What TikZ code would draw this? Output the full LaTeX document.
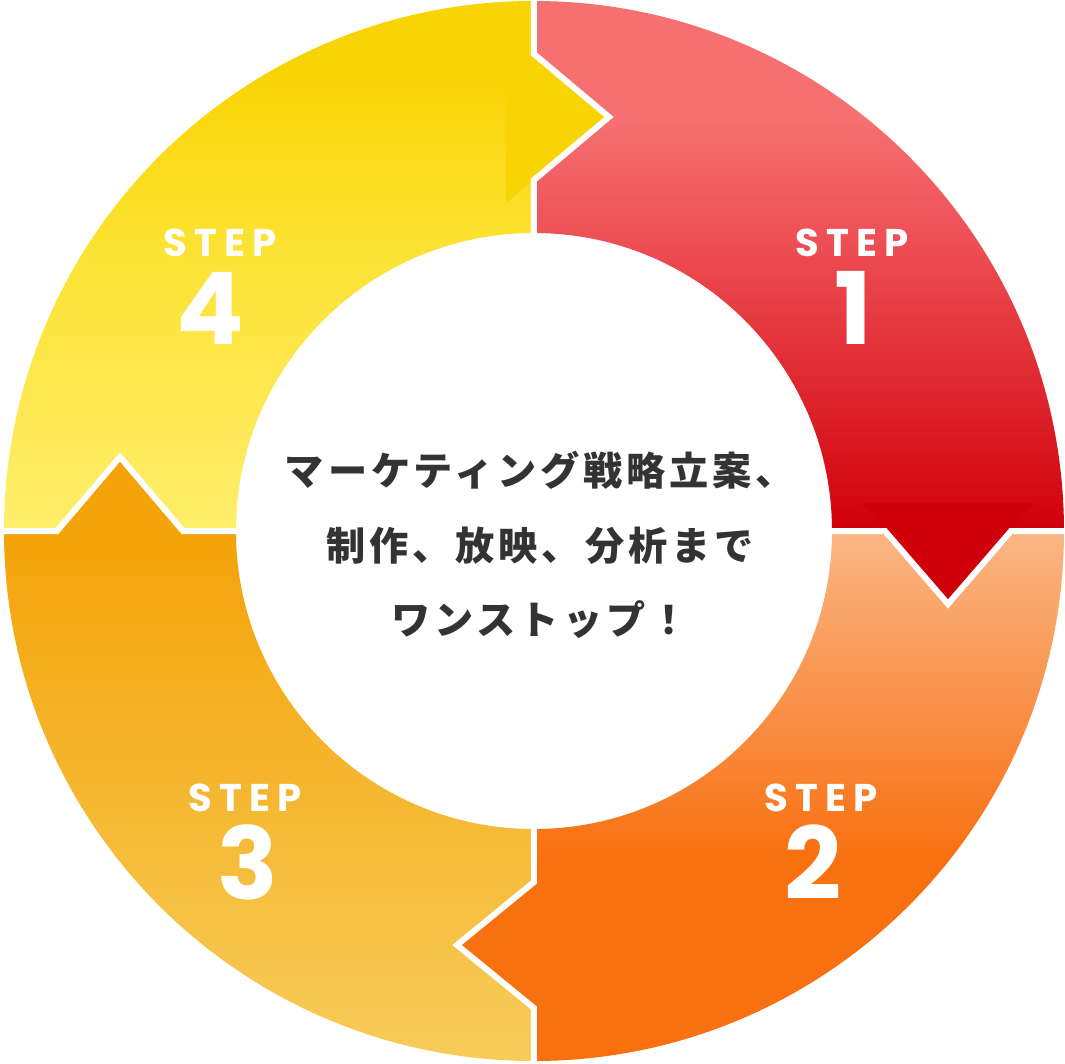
\documentclass[tikz,border=0pt]{standalone}
\usepackage{fontspec}
\usepackage{tikz}
\usetikzlibrary{positioning}
\newfontfamily\jpfont{Noto Sans CJK JP}[LetterSpace=10]
\newfontfamily\stepfont{Poppins}[LetterSpace=18]
\newfontfamily\numfont{Poppins}
\definecolor{stepOneTop}{RGB}{246,112,114}
\definecolor{stepOneMid}{RGB}{235,72,78}
\definecolor{stepOneBot}{RGB}{208,0,10}
\definecolor{stepTwoTop}{RGB}{250,182,132}
\definecolor{stepTwoMid}{RGB}{249,148,78}
\definecolor{stepTwoBot}{RGB}{248,112,15}
\definecolor{stepThreeTop}{RGB}{244,163,8}
\definecolor{stepThreeMid}{RGB}{245,187,52}
\definecolor{stepThreeBot}{RGB}{247,204,90}
\definecolor{stepFourTop}{RGB}{249,212,5}
\definecolor{stepFourMid}{RGB}{252,226,50}
\definecolor{stepFourBot}{RGB}{255,238,108}
\definecolor{centerGray}{RGB}{51,51,51}
% 25bp = bottom of the path, 75bp = top of the path
\pgfdeclareverticalshading{stepOneShade}{100bp}{color(0bp)=(stepOneBot); color(25bp)=(stepOneBot);
    color(50bp)=(stepOneMid); color(64bp)=(stepOneTop); color(100bp)=(stepOneTop)}
\pgfdeclareverticalshading{stepTwoShade}{100bp}{color(0bp)=(stepTwoBot); color(44bp)=(stepTwoBot);
    color(60bp)=(stepTwoMid); color(75bp)=(stepTwoTop); color(100bp)=(stepTwoTop)}
\pgfdeclareverticalshading{stepFourShade}{100bp}{color(0bp)=(stepFourBot); color(25bp)=(stepFourBot);
    color(52bp)=(stepFourMid); color(68bp)=(stepFourTop); color(100bp)=(stepFourTop)}

\begin{document}
\begin{tikzpicture}[x=0.02cm,y=0.02cm,
    steplabel/.style={text=white, inner sep=0pt, font=\stepfont\bfseries\fontsize{22}{22}\selectfont},
    stepnum/.style={text=white, inner sep=0pt, font=\numfont\bfseries\fontsize{57}{57}\selectfont},
    sepline/.style={white, line width=0.12cm}]

    \useasboundingbox (-534,-532) rectangle (531,531);

    \pgfmathsetmacro{\rin}{298}
    \pgfmathsetmacro{\rout}{530}

    % ring quarters
    \shade[shading=stepOneShade]
        (0:\rin) -- (0:\rout) arc[start angle=0, end angle=90, radius=\rout]
        -- (90:\rin) arc[start angle=90, end angle=0, radius=\rin] -- cycle;
    \shade[shading=stepTwoShade]
        (-90:\rin) -- (-90:\rout) arc[start angle=-90, end angle=0, radius=\rout]
        -- (0:\rin) arc[start angle=0, end angle=-90, radius=\rin] -- cycle;
    \shade[top color=stepThreeTop, middle color=stepThreeMid, bottom color=stepThreeBot]
        (180:\rin) -- (180:\rout) arc[start angle=180, end angle=270, radius=\rout]
        -- (270:\rin) arc[start angle=270, end angle=180, radius=\rin] -- cycle;
    \shade[shading=stepFourShade]
        (90:\rin) -- (90:\rout) arc[start angle=90, end angle=180, radius=\rout]
        -- (180:\rin) arc[start angle=180, end angle=90, radius=\rin] -- cycle;

    % arrow heads
    \fill[stepOneBot] (328,28) -- (414,-73) -- (500,28) -- cycle;
    \fill[stepTwoBot] (28,-328) -- (-77,-414) -- (28,-500) -- cycle;
    \fill[stepThreeTop] (-500,-28) -- (-414,74) -- (-328,-28) -- cycle;
    \fill[stepFourTop] (-28,328) -- (75,414) -- (-28,500) -- cycle;

    % white gaps
    \draw[sepline] (0,\rin-2) -- (0,351) -- (75,414) -- (0,477) -- (0,\rout+6);
    \draw[sepline] (\rin-2,0) -- (351,0) -- (414,-73) -- (477,0) -- (\rout+6,0);
    \draw[sepline] (0,-\rin+2) -- (0,-351) -- (-77,-414) -- (0,-477) -- (0,-\rout-6);
    \draw[sepline] (-\rin+2,0) -- (-351,0) -- (-414,74) -- (-477,0) -- (-\rout-6,0);

    % step labels
    \node[steplabel] (lab1) at (318,288) {STEP};
    \node[stepnum] (num1) at (319,223) {1};
    \node[steplabel] (lab2) at (287,-267) {STEP};
    \node[stepnum] (num2) at (279,-331) {2};
    \node[steplabel] (lab3) at (-289,-267) {STEP};
    \node[stepnum] (num3) at (-286,-331) {3};
    \node[steplabel] (lab4) at (-314,288) {STEP};
    \node[stepnum] (num4) at (-324,223) {4};

    % centre text
    \node[text=centerGray, align=center, inner sep=0pt,
          font=\jpfont\bfseries\fontsize{22.3}{42.5}\selectfont] (motto) at (6,-14)
        {マーケティング戦略立案、\\制作、放映、分析まで\\ワンストップ！};

\end{tikzpicture}
\end{document}
